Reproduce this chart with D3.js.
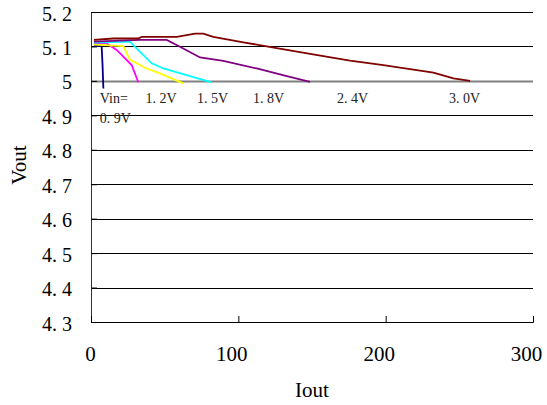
<!DOCTYPE html>
<html><head><meta charset="utf-8">
<script src="https://cdn.jsdelivr.net/npm/d3@7"></script>
<style>body{margin:0;background:#fff}</style>
</head><body><svg id="c" width="547" height="405"></svg>
<script>
const yTicks = [4.3,4.4,4.5,4.6,4.7,4.8,4.9,5.0,5.1,5.2];
const xTicks = [0,100,200,300];
const seriesNames = ["0.9V","1.2V","1.5V","1.8V","2.4V","3.0V"];
const seriesColors = ["#000080","#ff00ff","#ffff00","#00ffff","#800080","#800000"];
const s09 = [[2,5.102],[7.2,5.102],[7.8,5.05],[8.4,4.978]];
const s12 = [[2,5.109],[10.6,5.109],[17.4,5.090],[27.6,5.046],[32.1,4.996]];
const s15 = [[2,5.105],[22,5.101],[25.4,5.070],[26.5,5.061],[37.8,5.036],[46.8,5.022],[62.7,4.993]];
const s18 = [[2,5.111],[26.5,5.114],[29.9,5.099],[41.2,5.051],[49.1,5.036],[67.2,5.014],[81.9,4.996]];
const s24 = [[2,5.114],[15.1,5.116],[33.3,5.119],[51.4,5.119],[60.4,5.099],[74,5.068],[89.8,5.058],[112.5,5.036],[132.9,5.014],[148.7,4.997]];
const s30 = [[2,5.119],[15.1,5.123],[32.1,5.123],[34.4,5.128],[58.2,5.128],[70.6,5.137],[76.2,5.137],[83,5.128],[103.4,5.112],[126,5.095],[157.7,5.072],[175.8,5.059],[198.4,5.046],[232.4,5.024],[246,5.007],[257.3,5.0]];
const labelText = ["Vin=","0. 9V","1. 2V","1. 5V","1. 8V","2. 4V","3. 0V"];
const labelPos = [[6,4.935],[6,4.878],[37,4.935],[72,4.935],[110,4.935],[167,4.935],[243,4.935]];

const series = [s09,s12,s15,s18,s24,s30];
const svg = d3.select("#c");
const m = {l:91,t:12,r:14,b:83};
const W = 547-m.l-m.r, H = 405-m.t-m.b;
const x = d3.scaleLinear().domain([0,300]).range([m.l,m.l+W]);
const y = d3.scaleLinear().domain([4.3,5.2]).range([m.t+H,m.t]);
const fmt = d => String(+d.toFixed(1)).replace(".", ". ");
const font = "'Liberation Serif','DejaVu Serif',serif";

// gridlines
svg.append("g").selectAll("line").data(yTicks.filter(d=>d>4.3)).join("line")
  .attr("x1",x(0)).attr("x2",x(300))
  .attr("y1",d=>Math.round(y(d))+0.5).attr("y2",d=>Math.round(y(d))+0.5)
  .attr("stroke",d=>Math.abs(d-5)<1e-9?"#808080":"#000")
  .attr("stroke-width",d=>Math.abs(d-5)<1e-9?2:1);

// y axis
const ya = d3.axisLeft(y).tickValues(yTicks).tickSize(-6).tickPadding(19).tickFormat(fmt);
const gy = svg.append("g").attr("transform",`translate(${x(0)},0)`).call(ya);
gy.select(".domain").attr("stroke","#333");
gy.selectAll("text").attr("font-family",font).attr("font-size",20).attr("fill","#000").attr("dy","0.4em");

// x axis
const xa = d3.axisBottom(x).tickValues(xTicks).tickSize(-6).tickPadding(24).tickFormat(d=>d);
const gx = svg.append("g").attr("transform",`translate(0,${y(4.3)})`).call(xa);
gx.select(".domain").attr("stroke","#000");
gx.selectAll("text").attr("font-family",font).attr("font-size",21).attr("fill","#000")
  .attr("dx",d=>d>0?-7:-1);

// lines
const line = d3.line().x(d=>x(d[0])).y(d=>y(d[1]));
svg.append("g").selectAll("path").data(series).join("path")
  .attr("d",line).attr("fill","none")
  .attr("stroke",(d,i)=>seriesColors[i]).attr("stroke-width",1.8);

// labels
svg.append("g").selectAll("text").data(labelText).join("text")
  .attr("x",(d,i)=>x(labelPos[i][0])).attr("y",(d,i)=>y(labelPos[i][1]))
  .attr("font-family",font).attr("font-size",14).attr("fill","#222").text(d=>d);

// axis titles
svg.append("text").attr("x",312).attr("y",397).attr("text-anchor","middle")
  .attr("font-family",font).attr("font-size",21).text("Iout");
svg.append("text").attr("transform",`translate(26,165) rotate(-90)`).attr("text-anchor","middle")
  .attr("font-family",font).attr("font-size",21).text("Vout");
</script></body></html>
